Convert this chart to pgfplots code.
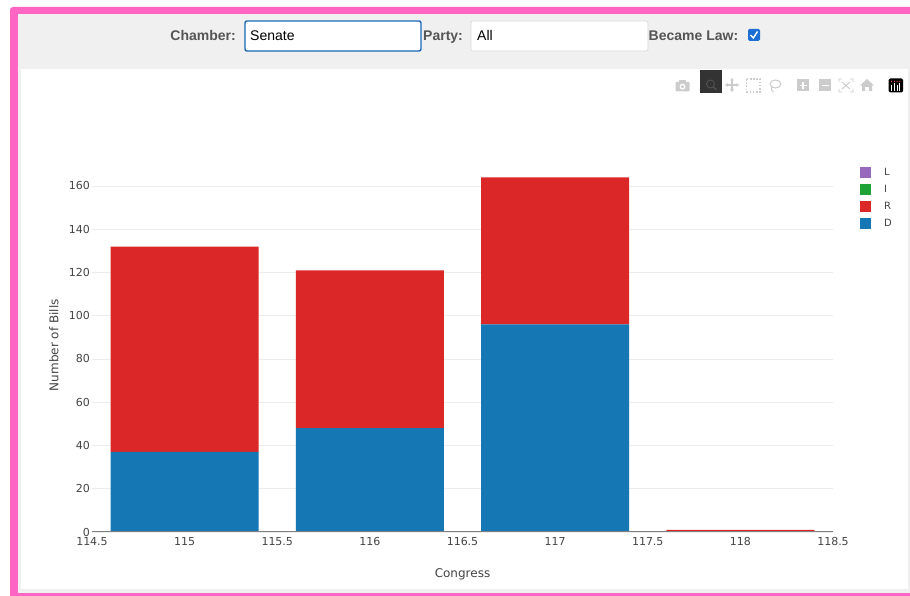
\documentclass[border=0pt]{standalone}
\usepackage{pgfplots}
\pgfplotsset{compat=1.18}
\usepackage{fontspec}
\setmainfont{DejaVu Sans}
\newfontfamily\formfont{Liberation Sans}
\definecolor{pinkb}{HTML}{FF66C4}
\definecolor{band}{HTML}{F0F0F0}
\definecolor{dblue}{HTML}{1577B4}
\definecolor{rred}{HTML}{DB2727}
\definecolor{igreen}{HTML}{1EA236}
\definecolor{lpurple}{HTML}{9768BC}
\definecolor{txt}{HTML}{444444}
\definecolor{lab}{HTML}{555555}
\definecolor{icon}{HTML}{CCCCCC}
\definecolor{focus}{HTML}{1A67B8}
\definecolor{check}{HTML}{1D6FD6}
\begin{document}
\begin{tikzpicture}
\useasboundingbox (0pt,0pt) rectangle (910pt,596pt);
\begin{scope}[x=1pt,y=-1pt,yshift=596pt]
  % frame
  \fill[pinkb,rounded corners=3pt] (10,7) rectangle (915,600);
  \fill[band] (18,14) rectangle (915,593);
  \fill[white] (21,69) rectangle (908,589);
  \fill[pinkb] (10,593) rectangle (915,596);
  % form
  \node[anchor=base east,font=\formfont\fontsize{14}{16}\selectfont\bfseries,text=lab,inner sep=0pt] at (236,40.5) {Chamber:};
  \draw[fill=white,draw=focus,line width=1.4pt,rounded corners=2pt] (245,21) rectangle (421,51);
  \node[anchor=base west,font=\formfont\fontsize{14}{16}\selectfont,text=black,inner sep=0pt] at (250,40.5) {Senate};
  \node[anchor=base west,font=\formfont\fontsize{14}{16}\selectfont\bfseries,text=lab,inner sep=0pt] at (423,40.5) {Party:};
  \draw[fill=white,draw=black!15,line width=0.7pt,rounded corners=2pt] (471,21) rectangle (648,51);
  \node[anchor=base west,font=\formfont\fontsize{14}{16}\selectfont,text=black,inner sep=0pt] at (477,40.5) {All};
  \node[anchor=base west,font=\formfont\fontsize{14}{16}\selectfont\bfseries,text=lab,inner sep=0pt] at (648.5,40.5) {Became Law:};
  \fill[check,rounded corners=1.5pt] (748,29) rectangle (760,41);
  \draw[white,line width=1.4pt] (750.5,35) -- (753.3,38) -- (757.5,31.5);
  % modebar
  \fill[icon,rounded corners=1pt] (675.5,82) rectangle (689.5,91.5);
  \fill[icon] (679,80.5) rectangle (686,83);
  \fill[white] (682.5,86.7) circle (3);
  \fill[icon] (682.5,86.7) circle (1.8);
  \fill[black!80] (700,70) rectangle (722,93);
  \draw[black!68,line width=0.9pt] (710.5,84) circle (4);
  \draw[black!68,line width=1.1pt] (713.5,87) -- (716.5,90);
  \draw[icon,line width=1.1pt] (726,85) -- (738,85) (732,79) -- (732,91);
  \fill[icon] (725,85) -- (727.5,83) -- (727.5,87) -- cycle
              (739,85) -- (736.5,83) -- (736.5,87) -- cycle
              (732,78) -- (730,80.5) -- (734,80.5) -- cycle
              (732,92) -- (730,89.5) -- (734,89.5) -- cycle;
  \draw[icon,line width=1.3pt,dash pattern=on 1.6pt off 1.6pt] (746.5,79) rectangle (760,92);
  \draw[icon,line width=1pt] (775.5,84) ellipse (5.5 and 4);
  \draw[icon,line width=1pt] (771.5,87) .. controls (771,90) and (772,91) .. (773.5,92);
  \fill[icon] (797,79.5) rectangle (809,91.5);
  \draw[white,line width=1.5pt] (799.5,85.5) -- (806.5,85.5) (803,82) -- (803,89);
  \fill[icon] (819,79.5) rectangle (831,91.5);
  \draw[white,line width=1.5pt] (821.5,85.5) -- (828.5,85.5);
  \draw[icon,line width=0.9pt] (839,82) -- (839,79) -- (842,79) (850,79) -- (853,79) -- (853,82)
       (853,89) -- (853,92) -- (850,92) (842,92) -- (839,92) -- (839,89)
       (842,82) -- (850,89) (850,82) -- (842,89);
  \fill[icon] (867,79) -- (874,85.5) -- (872,85.5) -- (872,91) -- (869,91) -- (869,87) -- (865,87) -- (865,91) -- (862,91) -- (862,85.5) -- (860,85.5) -- cycle;
  \fill[black,rounded corners=1.5pt] (888.5,78.5) rectangle (903,92.5);
  \draw[white,line width=0.9pt] (891.5,91) -- (891.5,85) (894.5,91) -- (894.5,83) (897,91) -- (897,85) (899.8,91) -- (899.8,83);
  \fill[red!70!white] (891,81) rectangle (892,82) (894,81) rectangle (895,82) (896.5,81) rectangle (897.5,82) (899.3,81) rectangle (900.3,82);
\end{scope}
\begin{axis}[
  at={(92pt,64pt)}, anchor=south west,
  scale only axis, width=741pt, height=373.7pt,
  xmin=114.5, xmax=118.5, ymin=0, ymax=172.8,
  ybar stacked, bar width=0.8, bar shift=0pt,
  xtick={114.5,115,115.5,116,116.5,117,117.5,118,118.5},
  xticklabels={114.5,115,115.5,116,116.5,117,117.5,118,118.5},
  ytick={0,20,40,60,80,100,120,140,160},
  axis line style={draw=none},
  axis x line*=bottom, axis y line*=left,
  ymajorgrids, grid style={draw=black!7,line width=0.7pt},
  major tick length=0pt,
  tick label style={font=\fontsize{11}{13}\selectfont,text=txt},
  /pgf/number format/assume math mode=true,
  /pgf/number format/1000 sep={},
  yticklabel style={xshift=1.5pt},
  xticklabel style={yshift=-1.5pt},
  xlabel={Congress}, ylabel={Number of Bills},
  label style={font=\fontsize{12}{14}\selectfont,text=txt},
  xlabel style={at={(axis description cs:0.5,0)},anchor=center,yshift=-42pt},
  ylabel style={at={(axis description cs:0,0.5)},anchor=center,yshift=38pt},
  reverse legend,
  legend cell align=left,
  legend style={draw=none,fill=none,
    at={(rel axis cs:1.0,1)},anchor=north west,xshift=27pt,yshift=-8.3pt,
    font=\fontsize{10}{12}\selectfont\color{txt},
    inner sep=0pt,outer sep=0pt,
    row sep=4.2pt,
    /tikz/every even column/.append style={column sep=0pt},
  },
  legend image code/.code={\fill[#1] (0pt,-5.5pt) rectangle (11pt,5.5pt);},
  clip=false,
]
\addplot[fill=dblue,draw=none] coordinates {(115,37) (116,48) (117,96) (118,0)};
\addlegendentry{\hspace{11pt}D}
\addplot[fill=rred,draw=none] coordinates {(115,95) (116,73) (117,68) (118,1)};
\addlegendentry{\hspace{11pt}R}
\addplot[fill=igreen,draw=none] coordinates {(115,0) (116,0) (117,0) (118,0)};
\addlegendentry{\hspace{11pt}I}
\addplot[fill=lpurple,draw=none] coordinates {(115,0) (116,0) (117,0) (118,0)};
\addlegendentry{\hspace{11pt}L}
\end{axis}
\begin{scope}[x=1pt,y=-1pt,yshift=596pt]
  \draw[black!50,line width=1pt] (92,532) -- (833,532);
\end{scope}
\end{tikzpicture}
\end{document}
